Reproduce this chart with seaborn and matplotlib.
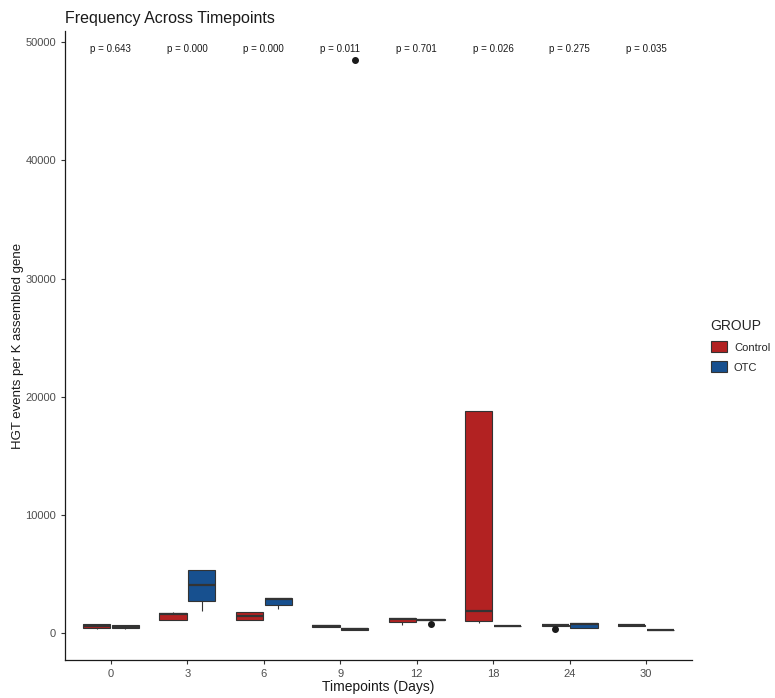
import matplotlib
matplotlib.use("Agg")
import matplotlib.pyplot as plt
import seaborn as sns
import pandas as pd
from matplotlib.patches import Patch

# Time points (days) and treatment groups
timepoints = ["0", "3", "6", "9", "12", "18", "24", "30"]
groups = ["Control", "OTC"]

# HGT events per K assembled gene, per sample
control_vals = {
    "0":  [400, 423, 592, 761, 770],
    "3":  [1140, 1150, 1650, 1742, 1826],
    "6":  [1140, 1150, 1463, 1801, 1810],
    "9":  [520, 533, 600, 676, 680],
    "12": [676, 955, 1235, 1294, 1300],
    "18": [900, 1040, 1911, 18825, 18825],
    "24": [364, 617, 680, 727, 730],
    "30": [610, 617, 680, 727, 730],
}
otc_vals = {
    "0":  [380, 423, 558, 676, 680],
    "3":  [1911, 2731, 4084, 5378, 5380],
    "6":  [2080, 2368, 2900, 2985, 2990],
    "9":  [279, 300, 360, 448, 48500],
    "12": [761, 1100, 1150, 1184, 1190],
    "18": [600, 620, 643, 660, 665],
    "24": [440, 448, 812, 896, 900],
    "30": [250, 254, 280, 305, 310],
}
p_values = ["0.643", "0.000", "0.000", "0.011", "0.701", "0.026", "0.275", "0.035"]

rows = []
for t in timepoints:
    for v in control_vals[t]:
        rows.append({"Timepoint": t, "GROUP": "Control", "Value": v})
    for v in otc_vals[t]:
        rows.append({"Timepoint": t, "GROUP": "OTC", "Value": v})
df = pd.DataFrame(rows)

palette = {"Control": "#B22222", "OTC": "#17508F"}
edge = "#333333"

sns.set_style("white")
plt.rcParams["font.family"] = ["Liberation Sans", "DejaVu Sans"]

fig = plt.figure(figsize=(7.75, 6.98), dpi=100)
ax = fig.add_axes([0.0839, 0.0544, 0.8090, 0.9012])

sns.boxplot(
    data=df, x="Timepoint", y="Value", hue="GROUP",
    order=timepoints, hue_order=groups, palette=palette,
    width=0.75, gap=0.05, linecolor=edge, linewidth=0.8,
    showcaps=False, saturation=1,
    medianprops={"color": edge, "linewidth": 1.6},
    whiskerprops={"color": edge, "linewidth": 0.8},
    flierprops={"marker": "o", "markersize": 4, "markerfacecolor": "#1a1a1a",
                "markeredgecolor": "#1a1a1a"},
    legend=False, ax=ax,
)

# p-value annotations above each timepoint
for i, p in enumerate(p_values):
    ax.text(i, 49400, f"p = {p}", ha="center", va="center", fontsize=7, color="#1a1a1a")

ax.set_xlim(-0.6, 7.6)
ax.set_ylim(-2258, 50930)
ax.set_yticks([0, 10000, 20000, 30000, 40000, 50000])
ax.set_yticklabels(["0", "10000", "20000", "30000", "40000", "50000"])

for s in ["top", "right"]:
    ax.spines[s].set_visible(False)
for s in ["left", "bottom"]:
    ax.spines[s].set_color("#1a1a1a")
    ax.spines[s].set_linewidth(0.9)

ax.tick_params(axis="both", which="both", length=3, width=0.8, color="#333333",
               labelcolor="#4D4D4D", labelsize=8, direction="out",
               left=True, bottom=True)

ax.set_xlabel("Timepoints (Days)", fontsize=10, color="#1a1a1a", labelpad=1)
ax.set_ylabel("HGT events per K assembled gene", fontsize=9.5, color="#1a1a1a", labelpad=1)
ax.set_title("Frequency Across Timepoints", loc="left", fontsize=11.5, color="#1a1a1a", pad=6)

handles = [Patch(facecolor=palette[g], edgecolor=edge, linewidth=0.8) for g in groups]
leg = ax.legend(handles, groups, title="GROUP", loc="center left",
                bbox_to_anchor=(1.012, 0.5), frameon=False, fontsize=8,
                title_fontsize=10, handlelength=1.5, handleheight=1.1,
                handletextpad=0.6, labelspacing=0.8, alignment="left",
                borderaxespad=0.6)

fig.savefig("out.png", dpi=100)
